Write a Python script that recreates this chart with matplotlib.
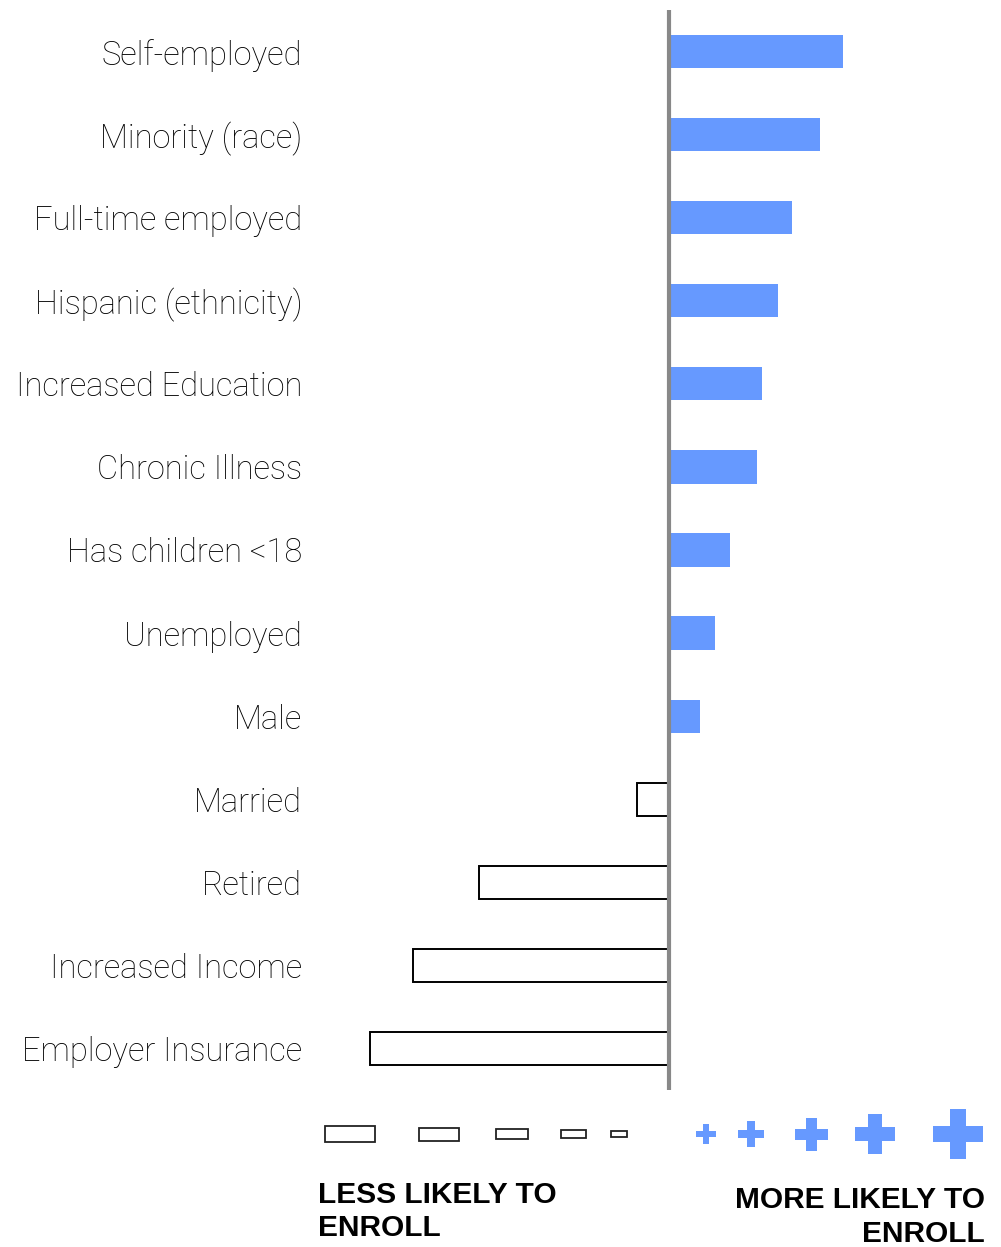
import matplotlib.pyplot as plt
from matplotlib.patches import Rectangle

# --------------------------------------------------
# Data (effect on likelihood to enroll, arbitrary units)
# --------------------------------------------------
factors = [
    "Self-employed", "Minority (race)", "Full-time employed",
    "Hispanic (ethnicity)", "Increased Education", "Chronic Illness",
    "Has children <18", "Unemployed", "Male", "Married", "Retired",
    "Increased Income", "Employer Insurance",
]
effects = [1.74, 1.51, 1.23, 1.09, 0.93, 0.88, 0.61, 0.46, 0.31,
           -0.32, -1.90, -2.56, -2.99]

# legend key glyph sizes (px), largest effect first
neg_key_w = [50, 40, 32, 25, 16]
neg_key_h = [16, 13, 10, 8, 6]
pos_key_size = [20, 26, 33, 40, 50]

BLUE = "#6699ff"
GREY = "#888888"

W, H = 1001, 1247
fig = plt.figure(figsize=(W / 100, H / 100), dpi=100)

# main axes: zero line at x=669px
ax = fig.add_axes([310 / W, 1 - 1090 / H, 690 / W, 1080 / H])
ax.set_xlim(-3.59, 3.31)
ax.set_ylim(12.50, -0.50)

ypos = list(range(len(factors)))
for y, v in zip(ypos, effects):
    if v >= 0:
        ax.barh(y, v, height=0.40, color=BLUE, edgecolor="none", zorder=2)
    else:
        ax.barh(y, v, height=0.40, facecolor="white", edgecolor="black",
                linewidth=1.4, zorder=2)

ax.axvline(0, color=GREY, linewidth=3, zorder=3)

ax.set_yticks(ypos)
ax.set_yticklabels(factors, fontfamily="Roboto", fontweight="light",
                   fontsize=23.5, color="#000000")
ax.tick_params(axis="y", length=0, pad=5.5)
ax.set_xticks([])
for s in ax.spines.values():
    s.set_visible(False)

# --------------------------------------------------
# Key at the bottom (pixel coordinates)
# --------------------------------------------------
key = fig.add_axes([0, 0, 1, 1], zorder=-1)
key.set_xlim(0, W)
key.set_ylim(H, 0)
key.axis("off")

neg_cx = [350, 439, 512, 573, 619]
for cx, w, h in zip(neg_cx, neg_key_w, neg_key_h):
    key.add_patch(Rectangle((cx - w / 2, 1134 - h / 2), w, h,
                            facecolor="white", edgecolor="#222222", lw=1.3))

pos_cx = [706, 751, 811, 875, 958]
for cx, s in zip(pos_cx, pos_key_size):
    t = s / 3
    key.add_patch(Rectangle((cx - s / 2, 1134 - t / 2), s, t,
                            facecolor=BLUE, edgecolor="none"))
    key.add_patch(Rectangle((cx - t / 2, 1134 - s / 2), t, s,
                            facecolor=BLUE, edgecolor="none"))

key.text(318, 1181, "LESS LIKELY TO\nENROLL", ha="left", va="top",
         fontfamily="Liberation Sans", fontweight="bold", fontsize=21.5,
         linespacing=1.25)
key.text(985, 1186, "MORE LIKELY TO\nENROLL", ha="right", va="top",
         fontfamily="Liberation Sans", fontweight="bold", fontsize=21.5,
         linespacing=1.25, multialignment="right")

fig.savefig("out.png", dpi=100)
